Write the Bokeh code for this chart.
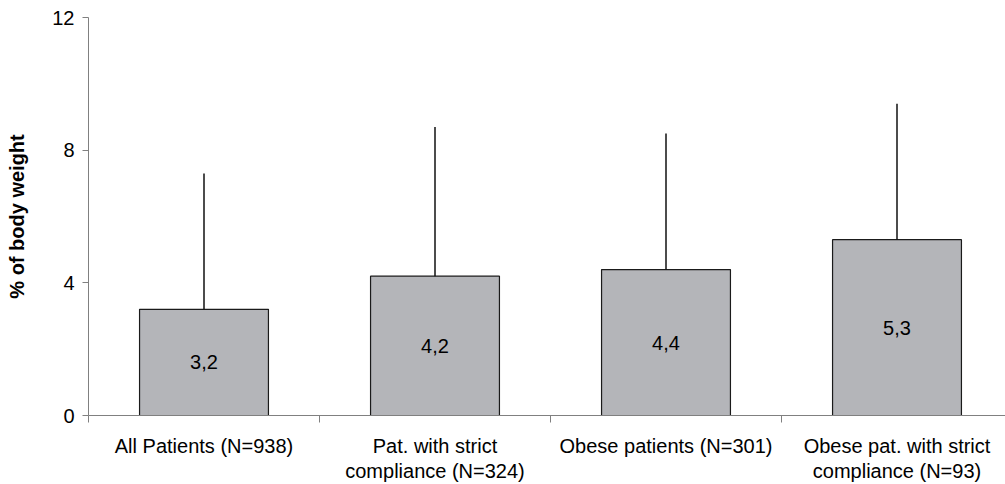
from bokeh.plotting import figure
from bokeh.models import Range1d, FixedTicker, CustomJSTickFormatter, ColumnDataSource
from bokeh.embed import file_html
from bokeh.resources import INLINE
from bokeh.core.properties import value

# Data
categories = ["All Patients (N=938)", "Pat. with strict\ncompliance (N=324)",
              "Obese patients (N=301)", "Obese pat. with strict\ncompliance (N=93)"]
means = [3.2, 4.2, 4.4, 5.3]
sds = [4.1, 4.5, 4.1, 4.1]
value_labels = ["3,2", "4,2", "4,4", "5,3"]
y_ticks = [0, 4, 8, 12]

FONT = "Liberation Sans"
xs = [i + 0.5 for i in range(len(categories))]
src = ColumnDataSource(dict(
    x=xs, top=means, mid=[m / 2 for m in means],
    hi=[m + s for m, s in zip(means, sds)], lab=value_labels))

p = figure(width=1005, height=484, output_backend="svg", toolbar_location=None,
           x_range=Range1d(0, 917 / 231), y_range=Range1d(0, 12))
p.min_border_left = 88
p.min_border_right = 0
p.min_border_top = 17
p.min_border_bottom = 68
p.outline_line_color = None
p.xgrid.visible = False
p.ygrid.visible = False
p.background_fill_color = "white"
p.border_fill_color = "white"

p.vbar(x="x", top="top", bottom=0, width=0.558, source=src,
       fill_color="#b4b5b9", line_color="#1a1a1a", line_width=1.2)
p.segment(x0="x", y0="top", x1="x", y1="hi", source=src,
          line_color="#111111", line_width=1.5)
p.text(x="x", y="mid", text="lab", source=src, text_font=value(FONT),
       text_font_size="20px", text_align="center", text_baseline="middle",
       text_color="black")

# y axis
ya = p.yaxis[0]
ya.ticker = FixedTicker(ticks=y_ticks)
ya.major_tick_in = 0
ya.major_tick_out = 6
ya.minor_tick_out = 0
ya.minor_tick_in = 0
ya.axis_line_color = "#808080"
ya.major_tick_line_color = "#808080"
ya.major_label_text_font = FONT
ya.major_label_text_font_size = "20px"
ya.major_label_text_color = "black"
ya.major_label_standoff = 8
ya.axis_label = "% of body weight"
ya.axis_label_text_font = FONT
ya.axis_label_text_font_size = "20px"
ya.axis_label_text_font_style = "bold"
ya.axis_label_text_color = "black"
ya.axis_label_standoff = 21

# x axis
xa = p.xaxis[0]
xa.ticker = FixedTicker(ticks=xs, minor_ticks=[0, 1, 2, 3])
xa.formatter = CustomJSTickFormatter(args=dict(labels=categories),
                                     code="return labels[Math.floor(tick)];")
xa.major_tick_in = 0
xa.major_tick_out = 0
xa.minor_tick_in = 0
xa.minor_tick_out = 7
xa.axis_line_color = "#808080"
xa.minor_tick_line_color = "#808080"
xa.major_label_text_font = FONT
xa.major_label_text_font_size = "20px"
xa.major_label_text_color = "black"
xa.major_label_text_line_height = 1.15
xa.major_label_standoff = 12

open("out.html", "w").write(file_html(p, INLINE))
